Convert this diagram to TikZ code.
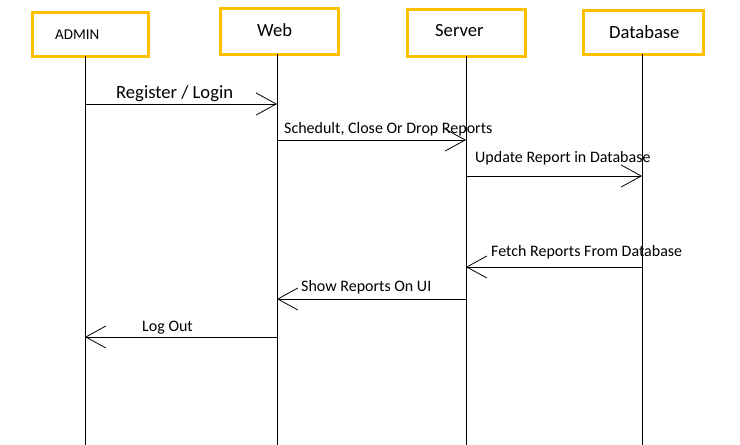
\documentclass[tikz,border=0pt]{standalone}
\usepackage{fontspec}
\setmainfont{Carlito}
\usetikzlibrary{arrows.meta}
\definecolor{boxyellow}{HTML}{FFC000}
\begin{document}
\begin{tikzpicture}[x=1pt,y=-1pt,
  actor/.style={draw=boxyellow,line width=3pt,fill=white,inner sep=0pt},
  lifeline/.style={line width=1pt,black},
  msg/.style={line width=1pt,black,-{Straight Barb[length=20pt,width=22pt,line width=0.8pt]}},
  lbl/.style={anchor=base west,inner sep=0pt,font=\fontsize{16}{18}\selectfont},
  ttl/.style={anchor=base west,inner sep=0pt}]
\useasboundingbox (0,0) rectangle (740,445);
% actor boxes
\node[actor,minimum width=116pt,minimum height=44pt] (admin) at (90,34) {};
\node[actor,minimum width=118pt,minimum height=46pt] (web) at (279,31) {};
\node[actor,minimum width=118pt,minimum height=47pt] (server) at (466,32.5) {};
\node[actor,minimum width=120pt,minimum height=44pt] (db) at (643,32) {};
\node[ttl,font=\fontsize{15}{17}\selectfont] (tadmin) at (55,39) {ADMIN};
\node[ttl,font=\fontsize{18.6}{21}\selectfont] (tweb) at (257,36) {Web};
\node[ttl,font=\fontsize{18.6}{21}\selectfont] (tserver) at (435,36) {Server};
\node[ttl,font=\fontsize{18.6}{21}\selectfont] (tdb) at (609,38) {Database};
% lifeline ends
\coordinate (ea) at (85,445);
\coordinate (ew) at (277,445);
\coordinate (es) at (466,445);
\coordinate (ed) at (642,445);
\draw[lifeline] (85,56) coordinate (sa) -- (ea);
\draw[lifeline] (277,54) coordinate (sw) -- (ew);
\draw[lifeline] (466,56) coordinate (ss) -- (es);
\draw[lifeline] (642,54) coordinate (sd) -- (ed);
% message points
\coordinate (m1a) at (85,104);  \coordinate (m1b) at (277,104);
\coordinate (m2a) at (277,140); \coordinate (m2b) at (466,140);
\coordinate (m3a) at (466,176); \coordinate (m3b) at (642,176);
\coordinate (m4a) at (642,267); \coordinate (m4b) at (466,267);
\coordinate (m5a) at (466,299); \coordinate (m5b) at (277,299);
\coordinate (m6a) at (277,337); \coordinate (m6b) at (85,337);
\draw[msg] (m1a) -- (m1b);
\draw[msg] (m2a) -- (m2b);
\draw[msg] (m3a) -- (m3b);
\draw[msg] (m4a) -- (m4b);
\draw[msg] (m5a) -- (m5b);
\draw[msg] (m6a) -- (m6b);
% labels
\node[lbl,font=\fontsize{18.6}{21}\selectfont] (l1) at (116,98) {Register / Login};
\node[lbl] (l2) at (284,133) {Schedult, Close Or Drop Reports};
\node[lbl] (l3) at (475,162) {Update Report in Database};
\node[lbl] (l4) at (491,256) {Fetch Reports From Database};
\node[lbl] (l5) at (301,291) {Show Reports On UI};
\node[lbl] (l6) at (142,331) {Log Out};
\end{tikzpicture}
\end{document}
